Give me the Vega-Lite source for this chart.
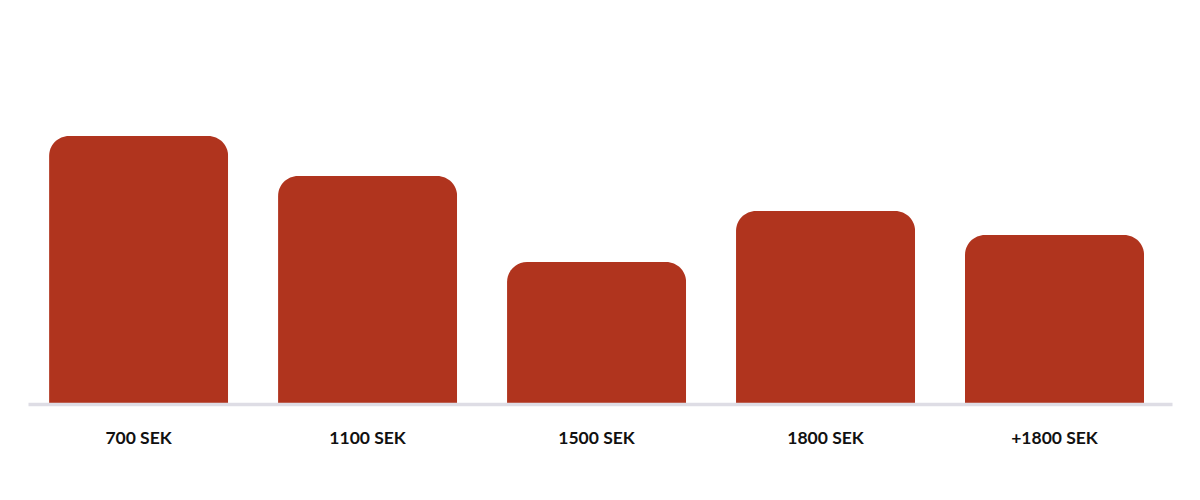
{
  "$schema": "https://vega.github.io/schema/vega-lite/v6.json",
  "width": 1144,
  "height": 404,
  "padding": {"left": 28, "top": 0, "right": 28, "bottom": 0},
  "background": "white",
  "data": {"values": [
    {"category": "700 SEK", "value": 268},
    {"category": "1100 SEK", "value": 228},
    {"category": "1500 SEK", "value": 142},
    {"category": "1800 SEK", "value": 193},
    {"category": "+1800 SEK", "value": 169}
  ]},
  "mark": {"type": "bar", "color": "#b0341e", "cornerRadiusTopLeft": 20, "cornerRadiusTopRight": 20},
  "encoding": {
    "x": {
      "field": "category", "type": "nominal", "sort": null,
      "scale": {"paddingInner": 0.218, "paddingOuter": 0.107, "align": 0.43},
      "axis": {"title": null, "labelAngle": 0, "ticks": false, "domainColor": "#dedde5", "domainWidth": 3.5, "labelFont": "Lato", "labelFontWeight": "bold", "labelFontSize": 17.5, "labelColor": "#111111", "labelBaseline": "middle", "labelPadding": 34, "zindex": 1}
    },
    "y": {
      "field": "value", "type": "quantitative",
      "scale": {"domain": [0, 404], "nice": false},
      "axis": null
    }
  },
  "config": {"view": {"stroke": null}}
}
